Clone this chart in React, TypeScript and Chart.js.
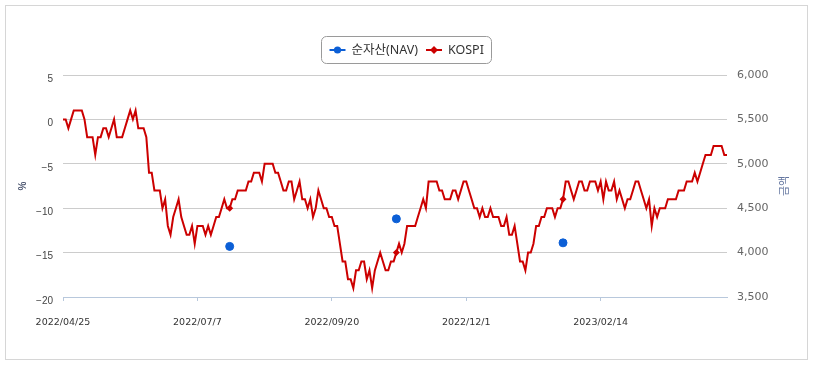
import React, { useEffect, useRef } from 'react';
import { Chart, registerables } from 'chart.js';

Chart.register(...registerables);

// KOSPI return (%) per trading day
const kospiPct = [
  0, 0, -1, 0, 1, 1, 1, 1, 0, -2,
  -2, -2, -4, -2, -2, -1, -1, -2, -1, 0,
  -2, -2, -2, -1, 0, 1, 0, 1, -1, -1,
  -1, -2, -6, -6, -8, -8, -8, -10, -9, -12,
  -13, -11, -10, -9, -11, -12, -13, -13, -12, -14,
  -12, -12, -12, -13, -12, -13, -12, -11, -11, -10,
  -9, -10, -10, -9, -9, -8, -8, -8, -8, -7,
  -7, -6, -6, -6, -7, -5, -5, -5, -5, -6,
  -6, -7, -8, -8, -7, -7, -9, -8, -7, -9,
  -9, -10, -9, -11, -10, -8, -9, -10, -10, -11,
  -11, -12, -12, -14, -16, -16, -18, -18, -19, -17,
  -17, -16, -16, -18, -17, -19, -17, -16, -15, -16,
  -17, -17, -16, -16, -15, -14, -15, -14, -12, -12,
  -12, -12, -11, -10, -9, -10, -7, -7, -7, -7,
  -8, -8, -9, -9, -9, -8, -8, -9, -8, -7,
  -7, -8, -9, -10, -10, -11, -10, -11, -11, -10,
  -11, -11, -11, -12, -12, -11, -13, -13, -12, -14,
  -16, -16, -17, -15, -15, -14, -12, -12, -11, -11,
  -10, -10, -10, -11, -10, -10, -9, -7, -7, -8,
  -9, -8, -7, -7, -8, -8, -7, -7, -7, -8,
  -7, -9, -7, -8, -8, -7, -9, -8, -9, -10,
  -9, -9, -8, -7, -7, -8, -9, -10, -9, -12,
  -10, -11, -10, -10, -10, -9, -9, -9, -9, -8,
  -8, -8, -7, -7, -7, -6, -7, -6, -5, -4,
  -4, -4, -3, -3, -3, -3, -4, -4,
];

// NAV (%) observations and the trading-day positions where they occur
const navPointIndex = [62, 124, 186];
const navPct = [-14.3, -11.2, -13.9];

const xTickLabels = ['2022/04/25', '2022/07/7', '2022/09/20', '2022/12/1', '2023/02/14'];
const xTickEvery = 50;

const leftMin = -20;
const leftMax = 5;
const leftStep = 5;
const rightMin = 3500;
const rightMax = 6000;
const rightStep = 500;

const seriesNames = ['순자산(NAV)', 'KOSPI'];
const axisTitles = ['%', '금액'];

const NAV_COLOR = '#0c5fd6';
const KOSPI_COLOR = '#cc0000';

const labels = kospiPct.map((_, i) =>
  i % xTickEvery === 0 && xTickLabels[i / xTickEvery] ? xTickLabels[i / xTickEvery] : ''
);
const navData = kospiPct.map((_, i) => {
  const k = navPointIndex.indexOf(i);
  return k >= 0 ? navPct[k] : null;
});
const kospiPointRadius = kospiPct.map((_, i) => (navPointIndex.includes(i) ? 3.5 : 0));

const overlayPlugin = {
  id: 'overlay',
  afterDraw(chart: any) {
    const ctx: CanvasRenderingContext2D = chart.ctx;
    ctx.save();
    // legend
    const font = "12.5px 'Noto Sans', 'Noto Sans CJK KR', sans-serif";
    ctx.font = font;
    const w1 = ctx.measureText(seriesNames[0]).width;
    const w2 = ctx.measureText(seriesNames[1]).width;
    const iconW = 16, gap = 6, itemGap = 8, padX = 8;
    const total = padX + iconW + gap + w1 + itemGap + iconW + gap + w2 + padX;
    const cx = 406;
    const boxX = Math.round(cx - total / 2) + 0.5;
    const boxY = 36.5;
    const boxW = Math.round(total);
    const boxH = 27;
    ctx.strokeStyle = '#9a9a9a';
    ctx.lineWidth = 1;
    ctx.beginPath();
    (ctx as any).roundRect(boxX, boxY, boxW, boxH, 5);
    ctx.stroke();
    const cy = 50;
    let x = boxX + padX;
    // NAV icon
    ctx.strokeStyle = NAV_COLOR;
    ctx.lineWidth = 2;
    ctx.beginPath();
    ctx.moveTo(x, cy);
    ctx.lineTo(x + iconW, cy);
    ctx.stroke();
    ctx.fillStyle = NAV_COLOR;
    ctx.beginPath();
    ctx.arc(x + iconW / 2, cy, 3.6, 0, Math.PI * 2);
    ctx.fill();
    x += iconW + gap;
    ctx.fillStyle = '#333';
    ctx.textBaseline = 'middle';
    ctx.textAlign = 'left';
    ctx.fillText(seriesNames[0], x, cy);
    x += w1 + itemGap;
    // KOSPI icon
    ctx.strokeStyle = KOSPI_COLOR;
    ctx.lineWidth = 2;
    ctx.beginPath();
    ctx.moveTo(x, cy);
    ctx.lineTo(x + iconW, cy);
    ctx.stroke();
    ctx.fillStyle = KOSPI_COLOR;
    ctx.beginPath();
    const dx = x + iconW / 2;
    ctx.moveTo(dx, cy - 4);
    ctx.lineTo(dx + 4, cy);
    ctx.lineTo(dx, cy + 4);
    ctx.lineTo(dx - 4, cy);
    ctx.closePath();
    ctx.fill();
    x += iconW + gap;
    ctx.fillStyle = '#333';
    ctx.fillText(seriesNames[1], x, cy);

    // axis titles
    const area = chart.chartArea;
    const midY = (area.top + area.bottom) / 2;
    ctx.textAlign = 'center';
    ctx.textBaseline = 'middle';
    ctx.font = "bold 10px 'Liberation Sans', sans-serif";
    ctx.fillStyle = '#4c5670';
    ctx.save();
    ctx.translate(23.5, midY);
    ctx.rotate(-Math.PI / 2);
    ctx.fillText(axisTitles[0], 0, 0);
    ctx.restore();
    ctx.font = "11px 'Noto Sans CJK KR', sans-serif";
    ctx.fillStyle = '#6577a0';
    ctx.save();
    ctx.translate(784, midY);
    ctx.rotate(-Math.PI / 2);
    ctx.fillText(axisTitles[1], 0, 0);
    ctx.restore();
    ctx.restore();
  },
};

export default function App() {
  const canvasRef = useRef<HTMLCanvasElement | null>(null);

  useEffect(() => {
    if (!canvasRef.current) return;
    const chart = new Chart(canvasRef.current, {
      type: 'line',
      data: {
        labels,
        datasets: [
          {
            label: seriesNames[0],
            data: navData as any,
            showLine: false,
            pointRadius: 4,
            pointHoverRadius: 4,
            pointBackgroundColor: NAV_COLOR,
            pointBorderColor: NAV_COLOR,
            borderColor: NAV_COLOR,
            backgroundColor: NAV_COLOR,
            yAxisID: 'y',
          },
          {
            label: seriesNames[1],
            data: kospiPct,
            borderColor: KOSPI_COLOR,
            backgroundColor: KOSPI_COLOR,
            borderWidth: 2,
            tension: 0,
            pointStyle: 'rectRot',
            pointRadius: kospiPointRadius,
            pointBackgroundColor: KOSPI_COLOR,
            pointBorderColor: KOSPI_COLOR,
            pointBorderWidth: 0,
            yAxisID: 'y',
          },
        ],
      },
      options: {
        responsive: false,
        animation: false,
        devicePixelRatio: 1,
        layout: { padding: { top: 75, left: 0, right: 0, bottom: 0 } },
        plugins: {
          legend: { display: false },
          tooltip: { enabled: false },
          title: { display: false },
        },
        scales: {
          x: {
            type: 'category',
            offset: false,
            grid: {
              display: true,
              drawOnChartArea: false,
              drawTicks: true,
              tickLength: 4,
              color: '#b8c8dc',
            },
            border: { display: true, color: '#b8c8dc' },
            ticks: {
              autoSkip: false,
              maxRotation: 0,
              minRotation: 0,
              padding: 16,
              color: '#333',
              font: { family: "'DejaVu Sans', sans-serif", size: 9.5 },
              callback: (_v: any, idx: number) => (labels[idx] ? labels[idx] : null),
            },
            afterFit: (s: any) => {
              s.height = 71;
            },
          },
          y: {
            type: 'linear',
            position: 'left',
            min: leftMin,
            max: leftMax,
            grid: { color: '#cccccc', drawTicks: false },
            border: { display: false },
            ticks: {
              stepSize: leftStep,
              padding: 10,
              labelOffset: 4,
              color: '#444',
              font: { family: "'Liberation Sans', sans-serif", size: 10 },
              callback: (v: any) => String(v).replace('-', '\u2212'),
            },
            afterFit: (s: any) => {
              s.width = 63;
            },
          },
          y1: {
            type: 'linear',
            position: 'right',
            min: rightMin,
            max: rightMax,
            grid: { display: false, drawTicks: false },
            border: { display: false },
            ticks: {
              stepSize: rightStep,
              padding: 10,
              color: '#666',
              font: { family: "'DejaVu Sans', sans-serif", size: 11 },
              callback: (v: any) => Number(v).toLocaleString('en-US'),
            },
            afterFit: (s: any) => {
              s.width = 86;
            },
          },
        },
      },
      plugins: [overlayPlugin],
    });
    return () => chart.destroy();
  }, []);

  return (
    <div>
      <div
        style={{
          position: 'absolute',
          left: 5,
          top: 5,
          width: 803,
          height: 355,
          boxSizing: 'border-box',
          border: '1px solid #d6d6d6',
        }}
      />
      <canvas
        ref={canvasRef}
        width={813}
        height={368}
        style={{ position: 'absolute', left: 0, top: 0, width: 813, height: 368 }}
      />
    </div>
  );
}
